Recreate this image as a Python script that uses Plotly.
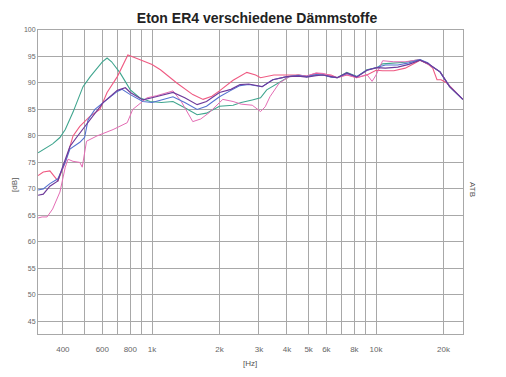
import plotly.graph_objects as go

title = "Eton ER4 verschiedene Dämmstoffe"

# x tick positions (Hz) and labels
x_tickvals = [300, 400, 500, 600, 700, 800, 900, 1000, 2000, 3000, 4000, 5000, 6000, 7000, 8000, 9000, 10000, 20000]
x_ticktext = ["", "400", "", "600", "", "800", "", "1k", "2k", "3k", "4k", "5k", "6k", "", "8k", "", "10k", "20k"]
y_tickvals = [45, 50, 55, 60, 65, 70, 75, 80, 85, 90, 95, 100]

teal_f = [310, 323, 360, 388, 410, 444, 492, 530, 568, 600, 630, 660, 720, 800, 880, 980, 1100, 1240, 1400, 1590, 1750, 2000, 2300, 2500, 2800, 3050, 3250, 3500, 3700, 4100, 4500, 4900, 5400, 5800, 6300, 6700, 7400, 8200, 9100, 10100, 10700, 12000, 13500, 15000, 15700, 17000, 17900, 19300, 21300, 24400]
teal_db = [76.8, 77.3, 78.5, 79.7, 81.2, 84.5, 89.3, 91.2, 92.8, 94.0, 94.7, 94.0, 91.9, 88.7, 87.2, 86.5, 86.3, 86.5, 85.3, 84.0, 84.3, 85.6, 85.8, 86.3, 86.8, 87.2, 88.7, 89.5, 90.2, 91.2, 91.5, 91.2, 91.5, 91.5, 91.2, 91.0, 92.0, 91.2, 92.5, 92.9, 93.6, 93.7, 93.9, 94.3, 94.4, 93.6, 93.0, 92.1, 89.3, 86.9]

red_f = [310, 327, 350, 365, 380, 410, 444, 476, 528, 585, 630, 700, 780, 885, 1000, 1090, 1290, 1520, 1690, 1850, 2000, 2300, 2650, 2900, 3050, 3500, 4100, 4500, 4900, 5400, 5800, 6300, 6700, 7400, 8200, 9100, 10000, 10700, 12000, 13500, 15000, 15700, 17000, 17900, 18700, 19500, 20700, 22500, 24400]
red_db = [72.5, 73.2, 73.4, 72.5, 71.5, 75.0, 80.0, 81.8, 83.7, 85.0, 88.2, 91.2, 95.3, 94.4, 93.5, 92.5, 90.0, 87.8, 86.9, 87.5, 88.5, 90.5, 92.0, 91.5, 91.0, 91.5, 91.5, 91.5, 91.3, 91.8, 91.7, 91.5, 91.0, 91.5, 91.0, 91.5, 92.4, 92.3, 92.3, 92.8, 93.8, 94.3, 93.6, 92.8, 90.6, 90.6, 90.0, 88.5, 86.9]

blue_f = [310, 327, 350, 380, 410, 430, 476, 500, 518, 556, 605, 700, 735, 800, 910, 1000, 1100, 1240, 1400, 1590, 1750, 2000, 2250, 2470, 2700, 3100, 3460, 4000, 4500, 4900, 5400, 5800, 6300, 6700, 7400, 8200, 9100, 10100, 11000, 12500, 14000, 15700, 17000, 17900, 19300, 21300, 24400]
blue_db = [69.8, 70.0, 71.0, 71.9, 75.0, 77.5, 78.8, 79.7, 83.0, 85.0, 86.3, 88.4, 88.8, 87.8, 86.5, 86.3, 86.8, 87.4, 86.3, 85.0, 85.6, 87.4, 88.6, 89.5, 89.7, 89.3, 90.6, 91.2, 91.4, 91.2, 91.6, 91.5, 91.1, 91.0, 91.8, 91.2, 92.4, 92.9, 93.4, 93.4, 93.8, 94.4, 93.8, 93.0, 92.1, 89.3, 86.9]

purple_f = [310, 327, 350, 380, 400, 430, 460, 510, 568, 605, 700, 760, 800, 910, 1000, 1100, 1240, 1400, 1590, 1750, 2000, 2250, 2470, 2700, 3100, 3460, 4000, 4500, 4900, 5400, 5800, 6300, 6700, 7400, 8200, 9100, 10100, 11000, 12500, 14000, 15700, 17000, 17900, 19300, 21300, 24400]
purple_db = [68.8, 69.0, 70.5, 71.5, 74.3, 78.0, 79.7, 82.2, 85.0, 86.3, 88.6, 89.1, 88.2, 86.8, 87.2, 87.6, 88.2, 87.2, 85.9, 86.5, 88.2, 88.8, 89.7, 89.8, 89.3, 90.6, 91.2, 91.3, 91.1, 91.4, 91.5, 91.2, 91.0, 91.9, 91.1, 92.4, 92.9, 92.8, 93.0, 93.5, 94.3, 93.7, 93.0, 92.1, 89.3, 86.9]

magenta_f = [310, 323, 340, 360, 388, 410, 422, 444, 476, 488, 510, 568, 670, 775, 820, 950, 1050, 1240, 1350, 1520, 1650, 1800, 2070, 2300, 2500, 2800, 3050, 3200, 3360, 3700, 4100, 4500, 4900, 5400, 5800, 6300, 6700, 7400, 8200, 9100, 9600, 10000, 10700, 12000, 13500, 15000, 15700, 17000, 17900, 19300, 21300, 24400]
magenta_db = [64.5, 64.7, 64.7, 66.2, 69.4, 74.1, 75.6, 75.2, 75.0, 74.1, 79.0, 80.0, 81.2, 82.5, 85.0, 87.2, 87.6, 88.5, 86.5, 82.7, 83.2, 84.4, 86.9, 86.5, 86.0, 85.8, 84.6, 85.5, 87.4, 90.0, 91.2, 91.5, 91.3, 91.9, 91.8, 91.4, 91.0, 91.6, 91.0, 91.6, 90.3, 91.5, 94.2, 94.0, 94.0, 94.3, 94.4, 93.6, 93.0, 92.1, 89.3, 86.9]

series = [
    ("teal", teal_f, teal_db, "#3fa58e", 1.1),
    ("red", red_f, red_db, "#ef5a82", 1.1),
    ("magenta", magenta_f, magenta_db, "#e46cb4", 1.0),
    ("blue", blue_f, blue_db, "#5472d0", 1.1),
    ("purple", purple_f, purple_db, "#6e3a9a", 1.2),
]

fig = go.Figure()
for name, f, db, col, w in series:
    fig.add_trace(go.Scatter(x=f, y=db, mode="lines", name=name,
                             line=dict(color=col, width=w), showlegend=False))

# page body has an 8px margin: figure sized/positioned so the plot lands where the reference has it
OFF = 8
W, H = 490, 361
l, t = 38 - OFF, 30 - OFF
r = W - (463 - OFF)
b = H - (334 - OFF)
pw, ph = W - l - r, H - t - b


def px2paper(px, py):
    return (px - OFF - l) / pw, 1 - (py - OFF - t) / ph


font = "Liberation Sans, Arial, sans-serif"
fig.update_layout(
    width=W, height=H,
    margin=dict(l=l, r=r, t=t, b=b),
    paper_bgcolor="white", plot_bgcolor="white",
    font=dict(family=font, color="#555555", size=8),
    title=dict(text="<b>" + title + "</b>", x=(257 - OFF) / W, xanchor="center",
               y=1 - (18 - OFF) / H, yanchor="middle",
               font=dict(size=14, color="#222222", family=font)),
    xaxis=dict(type="log", range=[2.491, 4.388], tickvals=x_tickvals, ticktext=x_ticktext,
               showgrid=True, gridcolor="#a8a8a8", gridwidth=1, zeroline=False,
               showline=True, linecolor="#a8a8a8", mirror=True, ticks="",
               ticklabelstandoff=7, tickfont=dict(size=8, color="#666666")),
    yaxis=dict(range=[42.6, 100], tickvals=y_tickvals, showgrid=True, gridcolor="#a8a8a8",
               gridwidth=1, zeroline=False, showline=True, linecolor="#a8a8a8", mirror=True,
               ticks="", tickfont=dict(size=7, color="#666666")),
)

labels = [("[dB]", 15, 185, -90), ("[Hz]", 250, 363, 0), ("ATB", 473, 190, 90)]
for text, px, py, ang in labels:
    ax, ay = px2paper(px, py)
    fig.add_annotation(text=text, x=ax, y=ay, xref="paper", yref="paper", showarrow=False,
                       textangle=ang, xanchor="center", yanchor="middle",
                       font=dict(size=8, color="#555555"))

fig.write_html("out.html")
